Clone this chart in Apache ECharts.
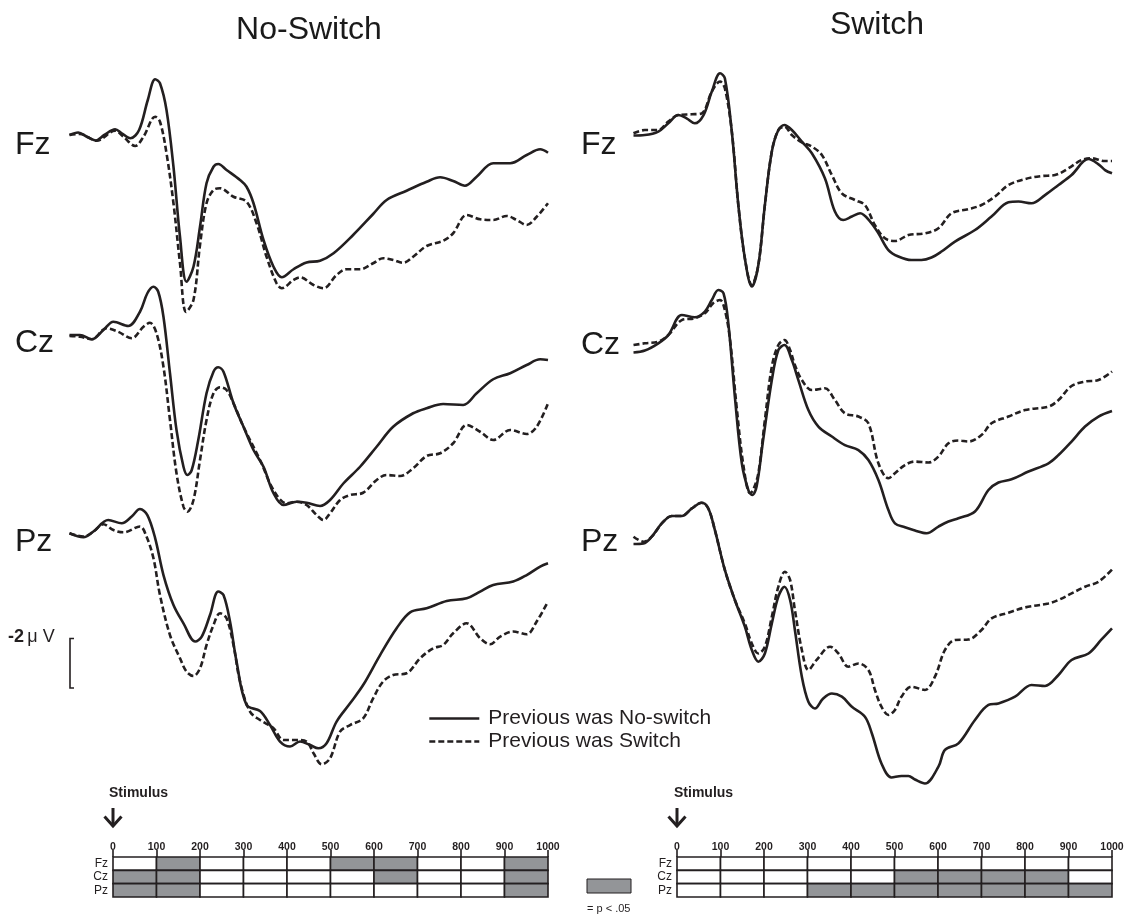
<!DOCTYPE html>
<html>
<head>
<meta charset="utf-8">
<script src="https://cdn.jsdelivr.net/npm/echarts@6/dist/echarts.min.js"></script>
<style>html,body{margin:0;padding:0;background:#fff}#c{width:1128px;height:915px}</style>
</head>
<body>
<div id="c"></div>
<script>
// ---- data: [time (ms), amplitude (µV)], negative plotted up ----
const nsFzPrevNoSwitch = [[-100,0],[-80,-0.1],[-60,0.07],[-40,0.22],[-20,0],[5,-0.23],[20,-0.07],[40,0.13],[60,-0.2],[80,-1.4],[97,-2.23],[108,-2.07],[123,-1.0],[139,1.27],[154,4.07],[169,5.87],[185,5.27],[200,3.67],[215,1.93],[231,1.27],[242,1.16],[261,1.4],[292,1.8],[307,2.07],[323,2.73],[346,4.2],[369,5.27],[388,5.69],[415,5.37],[445,5.1],[476,5.03],[507,4.73],[552,4.0],[598,3.16],[629,2.6],[675,2.23],[721,1.87],[752,1.69],[782,1.84],[809,2.03],[836,1.67],[874,1.13],[913,1.13],[951,0.8],[982,0.57],[1000,0.71]];
const nsFzPrevSwitch = [[-100,0],[-76,-0.04],[-38,0.23],[5,-0.17],[24,0.07],[51,0.44],[70,0.07],[97,-0.73],[108,-0.53],[123,0.73],[139,2.73],[154,5.13],[168,7.08],[185,6.6],[200,4.4],[215,2.73],[231,2.2],[246,2.13],[277,2.47],[307,2.67],[330,3.53],[353,4.87],[376,5.93],[388,6.13],[415,5.8],[430,5.69],[461,6.0],[484,6.13],[514,5.6],[537,5.37],[568,5.37],[598,5.13],[621,4.93],[644,5.0],[667,5.11],[690,4.87],[721,4.44],[759,4.23],[782,3.93],[813,3.2],[844,3.37],[874,3.4],[905,3.24],[928,3.4],[951,3.6],[974,3.27],[1000,2.73]];
const nsCzPrevNoSwitch = [[-100,0],[-76,0],[-49,0.17],[-22,-0.2],[1,-0.53],[35,-0.36],[62,-0.93],[79,-1.67],[93,-1.93],[104,-1.73],[116,-0.73],[131,1.53],[146,3.8],[162,5.27],[171,5.6],[181,5.4],[196,4.2],[215,2.33],[231,1.47],[242,1.29],[254,1.47],[277,2.73],[300,3.67],[323,4.6],[346,5.27],[369,6.33],[392,6.8],[422,6.67],[445,6.71],[476,6.84],[499,6.6],[530,5.93],[568,5.27],[606,4.47],[644,3.67],[690,3.13],[721,2.93],[759,2.76],[805,2.8],[836,2.33],[874,1.77],[913,1.53],[951,1.2],[982,0.97],[1000,1.0]];
const nsCzPrevSwitch = [[-100,0.04],[-76,0.07],[-49,0.17],[-15,-0.27],[12,-0.13],[43,0.13],[70,-0.33],[85,-0.49],[100,-0.07],[116,1.27],[131,3.4],[146,5.53],[162,6.87],[171,7.07],[185,6.6],[200,5.0],[215,3.4],[231,2.33],[246,2.09],[261,2.2],[277,2.73],[300,3.67],[338,5.0],[369,6.2],[399,6.73],[422,6.67],[445,6.8],[468,7.2],[484,7.4],[499,7.13],[522,6.6],[545,6.4],[575,6.31],[606,5.8],[629,5.6],[660,5.64],[690,5.33],[721,4.84],[752,4.73],[782,4.33],[813,3.6],[844,3.87],[874,4.2],[913,3.8],[951,3.96],[974,3.67],[1000,2.73]];
const nsPzPrevNoSwitch = [[-100,-0.04],[-68,0.12],[-45,-0.11],[-11,-0.57],[20,-0.44],[43,-0.71],[62,-1.01],[79,-0.77],[97,0.16],[116,1.63],[139,2.83],[162,3.56],[189,4.29],[204,4.09],[223,3.23],[242,2.29],[254,2.43],[269,3.49],[284,5.09],[307,6.83],[338,7.07],[361,7.63],[384,8.29],[407,8.49],[430,8.29],[453,8.43],[472,8.56],[491,8.36],[514,7.49],[545,6.76],[575,6.03],[614,4.83],[652,3.76],[683,3.12],[721,2.96],[767,2.67],[813,2.56],[844,2.29],[874,2.03],[920,1.89],[951,1.63],[982,1.29],[1000,1.16]];
const nsPzPrevSwitch = [[-100,-0.04],[-68,0.09],[-45,-0.11],[-22,-0.4],[1,-0.17],[24,-0.08],[62,-0.31],[77,0.09],[93,0.96],[108,2.43],[131,4.03],[154,4.96],[169,5.49],[185,5.67],[200,5.36],[215,4.43],[231,3.63],[246,3.16],[261,3.36],[277,4.43],[292,5.89],[315,7.09],[338,7.43],[369,7.76],[392,8.23],[422,8.23],[445,8.29],[461,8.76],[480,9.2],[499,8.96],[522,7.89],[545,7.63],[575,7.36],[598,6.56],[621,5.89],[644,5.63],[675,5.56],[706,4.96],[736,4.56],[759,4.43],[782,3.96],[813,3.56],[844,4.16],[867,4.4],[890,4.09],[920,3.89],[951,4.0],[974,3.49],[1000,2.69]];

const swFzPrevNoSwitch = [[-100,0.09],[-74,0.07],[-43,-0.07],[-20,-0.4],[3,-0.73],[22,-0.6],[41,-0.4],[61,-0.73],[80,-1.67],[99,-2.4],[110,-2.2],[126,-0.07],[141,2.87],[156,5.0],[172,6.13],[187,5.27],[202,2.87],[218,0.73],[233,-0.13],[247,-0.33],[264,-0.13],[287,0.33],[310,0.8],[340,1.8],[363,3.13],[382,3.47],[402,3.33],[421,3.2],[444,3.53],[463,4.0],[486,4.67],[509,4.93],[539,5.07],[562,5.07],[585,4.97],[608,4.73],[639,4.33],[685,3.87],[723,3.33],[762,2.76],[785,2.73],[815,2.8],[846,2.47],[877,2.07],[907,1.67],[946,1.03],[969,1.24],[984,1.47],[1000,1.6]];
const swFzPrevSwitch = [[-100,0],[-74,-0.13],[-43,-0.13],[-20,-0.47],[3,-0.73],[34,-0.76],[57,-0.8],[80,-1.67],[99,-2.07],[110,-1.8],[126,-0.07],[141,2.87],[156,5.0],[172,6.07],[187,5.27],[202,2.87],[218,0.73],[233,-0.13],[247,-0.27],[264,0.07],[287,0.36],[310,0.53],[333,0.87],[356,1.67],[379,2.4],[409,2.67],[432,2.87],[455,3.67],[478,4.2],[501,4.31],[532,4.07],[570,4.0],[601,3.8],[631,3.2],[670,3.03],[700,2.87],[731,2.53],[762,2.07],[800,1.83],[838,1.71],[869,1.67],[900,1.4],[930,1.07],[953,1.0],[984,1.11],[1000,1.11]];
const swCzPrevNoSwitch = [[-100,0.17],[-74,0.09],[-43,-0.2],[-20,-0.53],[11,-1.33],[41,-1.24],[64,-1.47],[80,-1.93],[95,-2.33],[107,-2.2],[118,-1.0],[133,1.93],[149,4.6],[164,5.67],[173,5.87],[183,5.53],[198,3.67],[218,1.27],[233,0.07],[247,-0.13],[264,0.47],[279,1.27],[302,2.47],[325,3.13],[356,3.53],[386,3.87],[417,4.07],[440,4.47],[463,5.27],[486,6.47],[501,7.0],[524,7.16],[547,7.29],[574,7.4],[601,7.13],[624,6.93],[647,6.8],[685,6.53],[716,5.67],[739,5.37],[769,5.24],[808,4.93],[854,4.6],[877,4.27],[907,3.73],[938,3.13],[969,2.73],[1000,2.51]];
const swCzPrevSwitch = [[-100,-0.13],[-74,-0.2],[-43,-0.27],[-20,-0.53],[11,-1.13],[41,-1.2],[64,-1.4],[83,-1.8],[99,-1.93],[110,-1.53],[122,-0.33],[137,2.33],[153,4.73],[168,5.8],[175,5.67],[187,5.0],[202,2.87],[218,0.73],[233,-0.13],[247,-0.33],[260,0.07],[271,0.67],[287,1.27],[310,1.67],[340,1.6],[363,2.07],[386,2.6],[417,2.73],[440,3.0],[463,4.6],[486,5.2],[501,5.0],[524,4.67],[547,4.53],[578,4.57],[601,4.33],[624,3.8],[647,3.69],[670,3.73],[700,3.47],[723,3.0],[762,2.73],[800,2.47],[854,2.33],[877,2.07],[907,1.51],[938,1.33],[969,1.27],[1000,0.93]];
const swPzPrevNoSwitch = [[-100,0.09],[-77,0.07],[-58,-0.2],[-35,-0.73],[-12,-1.03],[11,-1.03],[34,-1.33],[57,-1.56],[72,-1.33],[87,-0.47],[110,1.13],[133,2.33],[156,3.4],[172,4.33],[187,4.8],[202,4.47],[218,3.27],[233,2.2],[247,1.8],[260,2.33],[271,3.53],[287,5.4],[302,6.4],[317,6.67],[336,6.27],[356,6.07],[379,6.2],[402,6.6],[432,7.0],[448,7.67],[470,8.87],[493,9.43],[516,9.37],[532,9.37],[547,9.51],[570,9.67],[601,9.0],[616,8.33],[647,8.07],[685,7.13],[716,6.53],[739,6.47],[777,6.2],[815,5.73],[846,5.77],[877,5.33],[907,4.73],[946,4.47],[976,3.91],[1000,3.47]];
const swPzPrevSwitch = [[-100,-0.2],[-77,0],[-58,-0.2],[-35,-0.73],[-12,-1.03],[11,-1.03],[34,-1.33],[57,-1.56],[72,-1.33],[87,-0.47],[110,1.13],[133,2.33],[156,3.27],[172,4.07],[187,4.47],[202,4.2],[218,3.0],[233,1.8],[248,1.2],[260,1.53],[271,2.73],[287,4.33],[302,5.13],[321,4.73],[352,4.2],[371,4.47],[394,5.0],[417,4.87],[440,5.13],[455,5.93],[470,6.6],[486,6.93],[501,6.73],[516,6.2],[539,5.8],[570,5.93],[593,5.4],[616,4.33],[639,3.93],[670,3.91],[700,3.53],[723,3.07],[762,2.84],[800,2.63],[854,2.47],[877,2.33],[907,2.07],[938,1.8],[969,1.6],[1000,1.11]];

// ---- significance tables (1 = p < .05) per 100-ms bin ----
const binEdges = [0,100,200,300,400,500,600,700,800,900,1000];
const channels = ['Fz','Cz','Pz'];
const sigNoSwitchFz = [0,1,0,0,0,1,1,0,0,1];
const sigNoSwitchCz = [1,1,0,0,0,0,1,0,0,1];
const sigNoSwitchPz = [1,1,0,0,0,0,0,0,0,1];
const sigSwitchFz = [0,0,0,0,0,0,0,0,0,0];
const sigSwitchCz = [0,0,0,0,0,1,1,1,1,0];
const sigSwitchPz = [0,0,0,1,1,1,1,1,1,1];

const panelTitles = ['No-Switch','Switch'];
const legendNames = ['Previous was No-switch','Previous was Switch'];

// ---- build ----
const FONT = 'Liberation Sans, Arial, Helvetica, sans-serif';
const INK = '#231f20';
const GRAY = '#939598';

const waveGrids = [
  {left:69.5, top:60,    width:478.5, height:275, min:-3, max:8},
  {left:69.5, top:260,   width:478.5, height:275, min:-3, max:8},
  {left:69.5, top:459.3, width:478.5, height:325, min:-3, max:10},
  {left:633.5, top:58.3, width:478.5, height:275, min:-3, max:8},
  {left:633.5, top:273.3,width:478.5, height:275, min:-3, max:8},
  {left:633.5, top:466.7,width:478.5, height:325, min:-3, max:10}
];
const waveData = [
  [nsFzPrevNoSwitch, nsFzPrevSwitch],
  [nsCzPrevNoSwitch, nsCzPrevSwitch],
  [nsPzPrevNoSwitch, nsPzPrevSwitch],
  [swFzPrevNoSwitch, swFzPrevSwitch],
  [swCzPrevNoSwitch, swCzPrevSwitch],
  [swPzPrevNoSwitch, swPzPrevSwitch]
];

const grid = [], xAxis = [], yAxis = [], series = [];
waveGrids.forEach((g, i) => {
  grid.push({left:g.left, top:g.top, width:g.width, height:g.height});
  xAxis.push({type:'value', gridIndex:i, min:-100, max:1000, show:false});
  yAxis.push({type:'value', gridIndex:i, min:g.min, max:g.max, inverse:true, show:false});
  waveData[i].forEach((d, k) => {
    series.push({
      type:'line', name: legendNames[k], xAxisIndex:i, yAxisIndex:i,
      data:d, smooth:0.35, symbol:'none', showSymbol:false, silent:true,
      lineStyle:{color:INK, width:2.6, type: k === 0 ? 'solid' : [6,3]},
      itemStyle:{color:INK}
    });
  });
});

function tableRows(sigs) {
  const rows = [];
  sigs.forEach((s, r) => {
    s.forEach((v, b) => rows.push([binEdges[b], binEdges[b+1], r, v]));
  });
  return rows;
}
const tables = [
  {left:113, rows: tableRows([sigNoSwitchFz, sigNoSwitchCz, sigNoSwitchPz])},
  {left:677, rows: tableRows([sigSwitchFz, sigSwitchCz, sigSwitchPz])}
];
tables.forEach((t, j) => {
  const gi = 6 + j;
  grid.push({left:t.left, top:857, width:435, height:40});
  xAxis.push({type:'value', gridIndex:gi, min:0, max:1000, interval:100, position:'top',
    axisLine:{show:false}, splitLine:{show:false},
    axisTick:{show:true, length:7, lineStyle:{color:INK, width:1.6}},
    axisLabel:{fontFamily:FONT, fontSize:10.5, fontWeight:'bold', color:INK, margin:4,
      formatter: v => String(v)}});
  yAxis.push({type:'category', gridIndex:gi, data:channels, inverse:true,
    axisLine:{show:false}, axisTick:{show:false}, splitLine:{show:false},
    axisLabel:{fontFamily:FONT, fontSize:12, color:INK, margin:5, interval:0, lineHeight:12}});
  series.push({
    type:'custom', xAxisIndex:gi, yAxisIndex:gi, silent:true,
    encode:{x:[0,1], y:2},
    data:t.rows,
    renderItem:function(params, api){
      const a = api.coord([api.value(0), api.value(2)]);
      const b = api.coord([api.value(1), api.value(2)]);
      const h = api.size([0,1])[1];
      return {type:'rect', shape:{x:a[0], y:a[1]-h/2, width:b[0]-a[0], height:h},
        style:{fill: api.value(3) ? GRAY : '#fff', stroke:INK, lineWidth:1.6}};
    }
  });
});

const titleStyle = {fontFamily:FONT, fontSize:32, fill:'#1a1a1a'};
const chStyle = {fontFamily:FONT, fontSize:32, fill:'#1a1a1a', letterSpacing:4};
const graphic = [
  {type:'text', x:309, y:30, style:Object.assign({text:panelTitles[0], textAlign:'center', textVerticalAlign:'middle'}, titleStyle)},
  {type:'text', x:877, y:25, style:Object.assign({text:panelTitles[1], textAlign:'center', textVerticalAlign:'middle'}, titleStyle)}
];
const chLabelPos = [[15,145],[15,343],[15,542],[581,145],[581,345],[581,542]];
chLabelPos.forEach((p, i) => {
  graphic.push({type:'text', x:p[0], y:p[1], style:Object.assign({text:channels[i%3], textAlign:'left', textVerticalAlign:'middle'}, chStyle)});
});
// voltage scale bar
graphic.push({type:'text', x:8, y:637, style:{text:'{b|-2} {n|\u03bc V}', textVerticalAlign:'middle',
  rich:{b:{fontFamily:FONT, fontSize:18, fontWeight:'bold', fill:INK}, n:{fontFamily:FONT, fontSize:18, fill:INK}}}});
graphic.push({type:'polyline', shape:{points:[[74,638.5],[70,638.5],[70,688],[74,688]]}, style:{stroke:INK, lineWidth:1.6, fill:null}});
// stimulus markers
[[113,109],[677,674]].forEach(p => {
  graphic.push({type:'text', x:p[1], y:793, style:{text:'Stimulus', fontFamily:FONT, fontSize:14, fontWeight:'bold', fill:INK, textVerticalAlign:'middle', letterSpacing:-0.3}});
  graphic.push({type:'line', shape:{x1:p[0], y1:808, x2:p[0], y2:826}, style:{stroke:INK, lineWidth:3}});
  graphic.push({type:'polyline', shape:{points:[[p[0]-8.5,816.5],[p[0],826],[p[0]+8.5,816.5]]}, style:{stroke:INK, lineWidth:3, fill:null}});
});
// significance key
graphic.push({type:'rect', shape:{x:587, y:879, width:44, height:14}, style:{fill:GRAY, stroke:INK, lineWidth:1}});
graphic.push({type:'text', x:587, y:909, style:{text:'= p < .05', fontFamily:FONT, fontSize:11, fill:INK, textVerticalAlign:'middle'}});

const chart = echarts.init(document.getElementById('c'), null, {renderer:'canvas'});
chart.setOption({
  animation:false,
  backgroundColor:'#fff',
  grid, xAxis, yAxis, series, graphic,
  legend:{
    data:legendNames, orient:'vertical', left:423, top:703, itemGap:2,
    itemWidth:50, itemHeight:2, selectedMode:false,
    itemStyle:{opacity:0},
    lineStyle:{width:2.6},
    textStyle:{fontFamily:FONT, fontSize:21, color:INK, padding:[0,0,0,4]}
  }
});
</script>
</body>
</html>
